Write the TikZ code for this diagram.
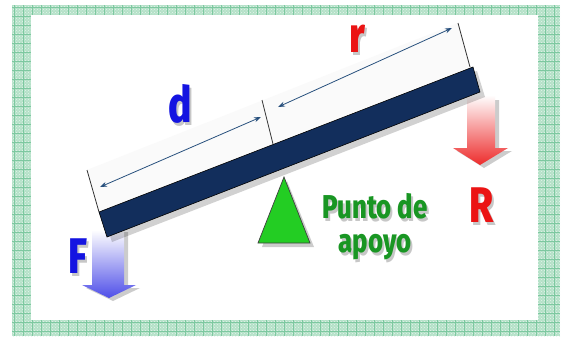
\documentclass[tikz,border=0pt]{standalone}
\usepackage{fontspec}
\newfontfamily\lblfont[FakeStretch=0.78, BoldFont={Fira Sans ExtraBold}]{Fira Sans}
\usetikzlibrary{arrows.meta,patterns}
\definecolor{beamc}{RGB}{18,46,92}
\definecolor{dimc}{RGB}{40,80,125}
\definecolor{lblblue}{RGB}{20,20,225}
\definecolor{lblred}{RGB}{235,20,20}
\definecolor{lblgreen}{RGB}{25,150,35}
\definecolor{tric}{RGB}{35,205,35}
\definecolor{framec}{RGB}{180,225,200}
\definecolor{gridc}{RGB}{125,200,160}
\newcommand\shadowed[1]{\makebox[0pt][l]{\hspace{2pt}\raisebox{-3pt}{\textcolor{black!22}{#1}}}#1}
\begin{document}
\begin{tikzpicture}[x=1pt,y=-1pt,
  big/.style={font=\lblfont\bfseries\fontsize{50}{50}\selectfont, inner sep=0pt, anchor=base},
  mid/.style={font=\lblfont\bfseries\fontsize{33}{34}\selectfont, inner sep=0pt, anchor=base, align=center},
  dimarrow/.style={dimc, line width=0.8pt, {Stealth[length=7pt,width=5pt]}-{Stealth[length=7pt,width=5pt]}},
  tick/.style={black!80, line width=0.8pt},
  shadowshape/.style={fill=black, opacity=0.2}]
\useasboundingbox (0,0) rectangle (563,338);
\fill[white] (0,0) rectangle (563,338);
% frame
\begin{scope}
  \clip (12,5) rectangle (560,336);
  \fill[framec] (12,5) rectangle (560,336);
  \fill[pattern=crosshatch dots, pattern color=white!65!framec] (12,5) rectangle (560,336);
  \foreach \x in {14,23,...,560} \draw[gridc, line width=0.5pt] (\x,5) -- (\x,336);
  \foreach \y in {7,16,...,336} \draw[gridc, line width=0.5pt] (12,\y) -- (560,\y);
\end{scope}
\fill[white] (31,15) rectangle (538,320);
% top face of beam
\fill[black!2] (87,170) -- (458,23) -- (470,67) -- (99,212) -- cycle;
% arrows F and R (behind beam)
\fill[shadowshape] (96,232) -- (128,232) -- (128,288) -- (140,288) -- (113,301) -- (86,288) -- (96,288) -- cycle;
\shade[top color=white, bottom color=lblblue!75] (92,230) -- (124,230) -- (124,285) -- (136,285) -- (109,298) -- (82,285) -- (92,285) -- cycle;
\fill[shadowshape] (471,100) -- (499,100) -- (499,151) -- (512,151) -- (484,168) -- (457,151) -- (471,151) -- cycle;
\shade[top color=white, bottom color=lblred!90] (467,95) -- (495,95) -- (495,148) -- (508,148) -- (480,165) -- (453,148) -- (467,148) -- cycle;
% beam
\fill[black, opacity=0.18] (103,216) -- (477,71) -- (485,97) -- (112,242) -- cycle;
\filldraw[fill=beamc, draw=black, line width=0.6pt] (99,212) -- (473,67) -- (480,92) -- (107,237) -- cycle;
% ticks
\draw[tick] (87,170) -- (99,212);
\draw[tick] (262,100) -- (273,144);
\draw[tick] (458,23) -- (470,67);
% dimension arrows
\coordinate (dA) at (100,187);
\coordinate (dB) at (261,117);
\coordinate (rA) at (278,107);
\coordinate (rB) at (452,28);
\draw[dimarrow] (dA) -- (dB);
\draw[dimarrow] (rA) -- (rB);
% fulcrum
\fill[shadowshape] (287,181) -- (314,247) -- (262,247) -- cycle;
\filldraw[fill=tric, draw=black!75, line width=0.7pt] (284,177) -- (310,243) -- (258,243) -- cycle;
% labels
\node[big, text=lblblue] (d) at (180,122) {\shadowed{d}};
\node[big, text=lblred] (r) at (357,52) {\shadowed{r}};
\node[big, text=lblblue] (F) at (78,273) {\shadowed{F}};
\node[big, text=lblred] (R) at (482,222) {\shadowed{R}};
\node[mid, text=lblgreen] (p) at (375,252) {\shadowed{Punto de}\\\shadowed{apoyo}};
\end{tikzpicture}
\end{document}
